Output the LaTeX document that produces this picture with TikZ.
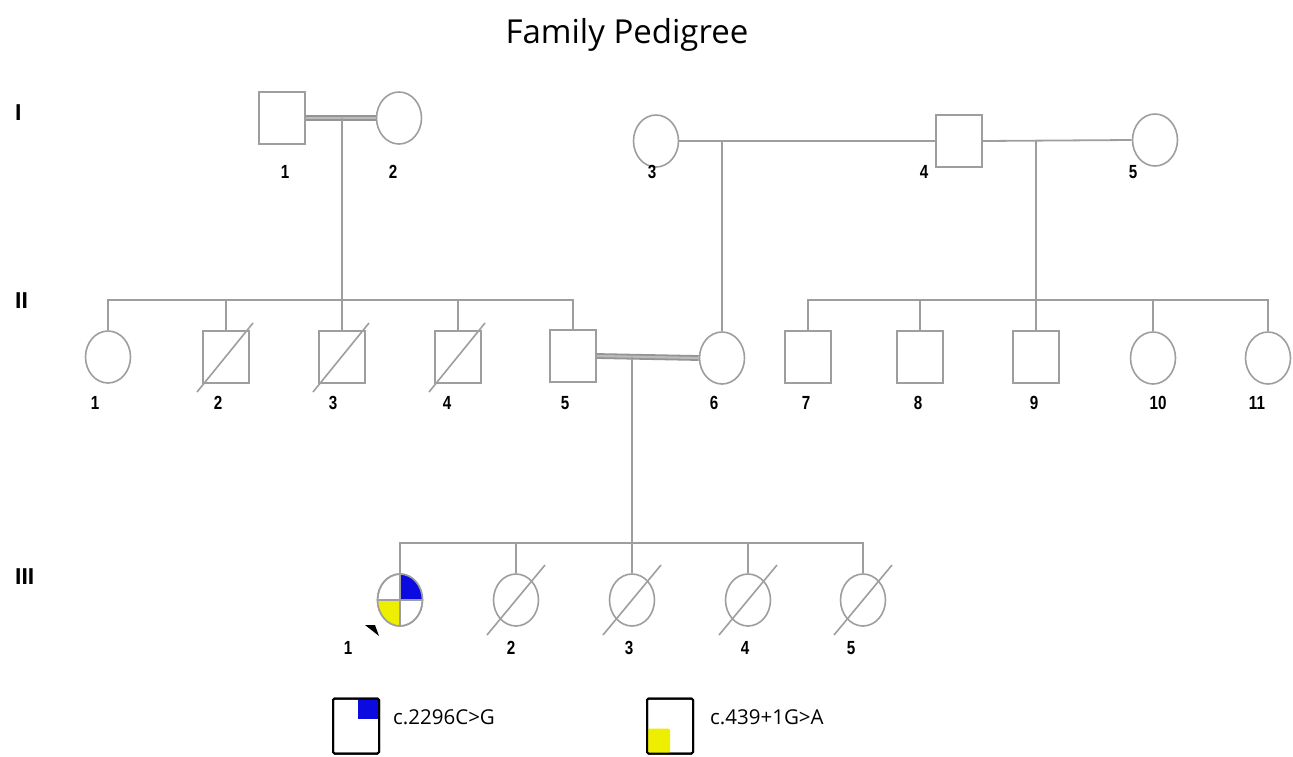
\documentclass[tikz,border=0pt]{standalone}
\usepackage{fontspec}
\setmainfont{Open Sans}
\newfontfamily\labf[FakeStretch=0.8]{Liberation Sans}
\newfontfamily\genf{Liberation Sans}
\usetikzlibrary{shapes.geometric}
\definecolor{pedgray}{RGB}{158,158,158}
\definecolor{varblue}{RGB}{10,10,225}
\definecolor{varyellow}{RGB}{238,238,0}
\begin{document}
\begin{tikzpicture}[x=1pt,y=-1pt,
  pline/.style={draw=pedgray,line width=1.8pt},
  cline/.style={draw=pedgray!110,line width=1.8pt,double=pedgray!70,double distance=2.2pt},
  male/.style={rectangle,draw=pedgray,line width=1.6pt,minimum width=46pt,minimum height=52pt,inner sep=0pt,fill=white},
  female/.style={ellipse,draw=pedgray,line width=1.6pt,minimum width=45pt,minimum height=52pt,inner sep=0pt,fill=white},
  lab/.style={font=\labf\bfseries\fontsize{19}{21}\selectfont,inner sep=0pt},
  gen/.style={font=\genf\bfseries\fontsize{23}{26}\selectfont,inner sep=0pt,anchor=west},
  slash/.style={draw=pedgray,line width=1.6pt},
  legbox/.style={rectangle,draw=black,line width=2pt,rounded corners=1.5pt,minimum width=46pt,minimum height=55pt,inner sep=0pt},
  legtext/.style={font=\fontsize{20.5}{24}\selectfont,inner sep=0pt,anchor=west}
]
\useasboundingbox (0,0) rectangle (1293,756);

% title
\node[font=\fontsize{33}{40}\selectfont,inner sep=0pt] (title) at (627,35) {Family Pedigree};

% generation labels
\node[gen] (gI) at (15,113) {I};
\node[gen] (gII) at (15,301) {II};
\node[gen] (gIII) at (15,577) {III};

% coordinates for sibship lines
\coordinate (s1) at (0,300);
\coordinate (s3) at (0,543);

% ---------- Generation I ----------
\node[male] (I1) at (282,118) {};
\node[female] (I2) at (399,118) {};
\node[female] (I3) at (656,141) {};
\node[male] (I4) at (959,141) {};
\node[female] (I5) at (1155,140) {};

\node[lab] (lI1) at (285,172) {1};
\node[lab] (lI2) at (393,172) {2};
\node[lab] (lI3) at (652,172) {3};
\node[lab] (lI4) at (924,172) {4};
\node[lab] (lI5) at (1133,172) {5};

\coordinate (m1) at (342,118);
\coordinate (m2) at (722,141);
\coordinate (m3) at (1036,141);

% ---------- Generation II ----------
\node[female] (II1) at (108,357) {};
\node[male] (II2) at (226,357) {};
\node[male] (II3) at (342,357) {};
\node[male] (II4) at (458,357) {};
\node[male] (II5) at (573,356) {};
\node[female] (II6) at (722,358) {};
\node[male] (II7) at (808,357) {};
\node[male] (II8) at (920,357) {};
\node[male] (II9) at (1036,357) {};
\node[female] (II10) at (1153,358) {};
\node[female] (II11) at (1268,358) {};

\node[lab] (lII1) at (95,403) {1};
\node[lab] (lII2) at (218,403) {2};
\node[lab] (lII3) at (333,403) {3};
\node[lab] (lII4) at (447,403) {4};
\node[lab] (lII5) at (565,403) {5};
\node[lab] (lII6) at (714,403) {6};
\node[lab] (lII7) at (806,403) {7};
\node[lab] (lII8) at (918,403) {8};
\node[lab] (lII9) at (1034,403) {9};
\node[lab] (lII10) at (1158,403) {10};
\node[lab] (lII11) at (1257,403) {11};

\coordinate (m4) at (632,357);

% ---------- Generation III ----------
\node[female] (III1) at (400,600) {};
\node[female] (III2) at (516,600) {};
\node[female] (III3) at (632,600) {};
\node[female] (III4) at (748,600) {};
\node[female] (III5) at (863,600) {};

\node[lab] (lIII1) at (348,648) {1};
\node[lab] (lIII2) at (511,648) {2};
\node[lab] (lIII3) at (629,648) {3};
\node[lab] (lIII4) at (745,648) {4};
\node[lab] (lIII5) at (851,648) {5};

% proband quadrants
\begin{scope}
  \clip (400,600) ellipse [x radius=22.5pt, y radius=26pt];
  \fill[varblue] (400,600) rectangle (424,572);
  \fill[varyellow] (400,600) rectangle (376,628);
\end{scope}
\draw[pedgray,line width=1.6pt] (400,600) ellipse [x radius=22.5pt, y radius=26pt];
\draw[pedgray,line width=1.4pt] (III1.north) -- (III1.south);
\draw[pedgray,line width=1.4pt] (III1.west) -- (III1.east);

% proband arrow
\fill[black] (365,625) -- (375,625) -- (379,636) -- cycle;

% ---------- connectors ----------
\draw[cline] (I1.east) -- (I2.west);
\draw[pline] (I3.east) -- (I4.west);
\draw[pline] (I4.east) -- (I5.west);
\draw[pline] (m1) -- (m1 |- s1);
\draw[pline] (m2) -- (II6.north);
\draw[pline] (m3) -- (m3 |- s1);

\draw[pline] (II1.north) -- (II1.north |- s1) -- (II5.north |- s1) -- (II5.north);
\draw[pline] (II2.north) -- (II2.north |- s1);
\draw[pline] (II3.north) -- (II3.north |- s1);
\draw[pline] (II4.north) -- (II4.north |- s1);

\draw[pline] (II7.north) -- (II7.north |- s1) -- (II11.north |- s1) -- (II11.north);
\draw[pline] (II8.north) -- (II8.north |- s1);
\draw[pline] (II9.north) -- (II9.north |- s1);
\draw[pline] (II10.north) -- (II10.north |- s1);

\draw[cline] (II5.east) -- (II6.west);
\draw[pline] (m4) -- (m4 |- s3);

\draw[pline] (III1.north) -- (III1.north |- s3) -- (III5.north |- s3) -- (III5.north);
\draw[pline] (III2.north) -- (III2.north |- s3);
\draw[pline] (III3.north) -- (III3.north |- s3);
\draw[pline] (III4.north) -- (III4.north |- s3);

% deceased slashes
\foreach \n in {II2,II3,II4} {
  \draw[slash] ([shift={(-29,35)}]\n.center) -- ([shift={(27,-34)}]\n.center);
}
\foreach \n in {III2,III3,III4,III5} {
  \draw[slash] ([shift={(-29,35)}]\n.center) -- ([shift={(29,-35)}]\n.center);
}

% ---------- legend ----------
\node[legbox] (L1) at (356,726) {};
\fill[varblue] ([shift={(-22,1)}]L1.north east) rectangle ([shift={(-1,21)}]L1.north east);
\draw[black,line width=2pt,rounded corners=1.5pt] (356,726) ++(-23,-27.5) rectangle ++(46,55);
\node[legtext] (T1) at (393,717) {c.2296C>G};

\node[legbox] (L2) at (670,726) {};
\fill[varyellow,rounded corners=2pt] ([shift={(1,-26)}]L2.south west) rectangle ([shift={(24,-1)}]L2.south west);
\draw[black,line width=2pt,rounded corners=1.5pt] (670,726) ++(-23,-27.5) rectangle ++(46,55);
\node[legtext] (T2) at (710,717) {c.439+1G>A};
\end{tikzpicture}
\end{document}
